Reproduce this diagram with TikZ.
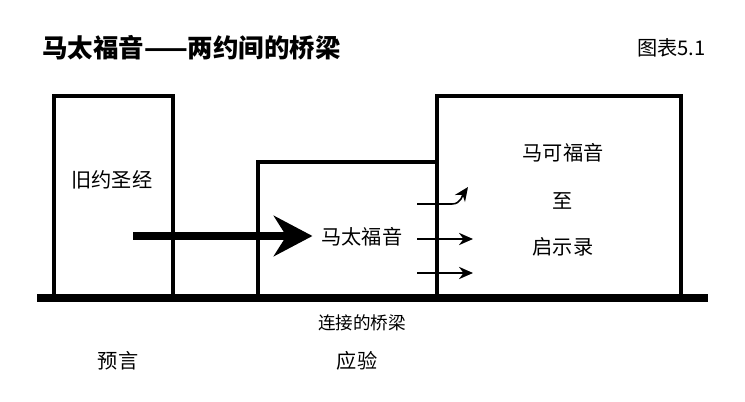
\documentclass[tikz,border=0pt]{standalone}
\usepackage{fontspec}
\setmainfont{Noto Sans CJK SC}
\usetikzlibrary{positioning,arrows.meta}
\tikzset{>=stealth}
\tikzset{
  wall/.style={line width=2pt,line join=miter},
  ground/.style={line width=4pt},
  bigarrow/.style={line width=4.5pt,-{Stealth[length=22pt,width=23pt]}},
  smallarrow/.style={line width=0.9pt,-{Stealth[length=8pt,width=7pt]}},
  lbl/.style={font=\fontsize{11.5}{13}\selectfont}
}

\begin{document}
\begin{tikzpicture}[x=0.02cm,y=-0.02cm]
          \useasboundingbox (0,0) rectangle (745,402);
          % Title
          \node[anchor=west,font=\bfseries\fontsize{14.5}{16}\selectfont] at (36,48) (title) {马太福音——两约间的桥梁};
          \node[anchor=east,lbl] at (712,48) (figno) {图表5.1};

          % Boxes
          \draw[wall] (54,298) -- (54,96) -- (173,96) -- (173,298);
          \draw[wall] (258,298) -- (258,162) -- (437,162);
          \draw[wall] (437,298) -- (437,96) -- (681,96) -- (681,298);
          \draw[ground] (37,298) -- (708,298);

          % Labels
          \node[lbl] at (112,180) (ot) {旧约圣经};
          \node[lbl,inner sep=5pt] at (362,237) (mt) {马太福音};
          \node[lbl] at (563,153) (mk) {马可福音};
          \node[lbl] at (563,201) (zhi) {至};
          \node[lbl] at (563,247) (rev) {启示录};
          \node[font=\fontsize{10}{12}\selectfont] at (362,323) (bridge) {连接的桥梁};
          \node[lbl] at (118,361) (proph) {预言};
          \node[lbl] at (357,361) (fulfil) {应验};

          % Arrows
          \coordinate (bigstart) at (133,236);
          \draw[bigarrow] (bigstart) -- (bigstart -| mt.west);
          \coordinate (s1) at (417,204);
          \coordinate (s2) at (417,239);
          \coordinate (s3) at (417,273);
          \coordinate (e1) at (468,187);
          \coordinate (e2) at (473,239);
          \coordinate (e3) at (473,273);
          \draw[smallarrow] (s1) -- ++(35,0) to[out=0,in=-125] (e1);
          \draw[smallarrow] (s2) -- (e2);
          \draw[smallarrow] (s3) -- (e3);
\end{tikzpicture}
\end{document}
